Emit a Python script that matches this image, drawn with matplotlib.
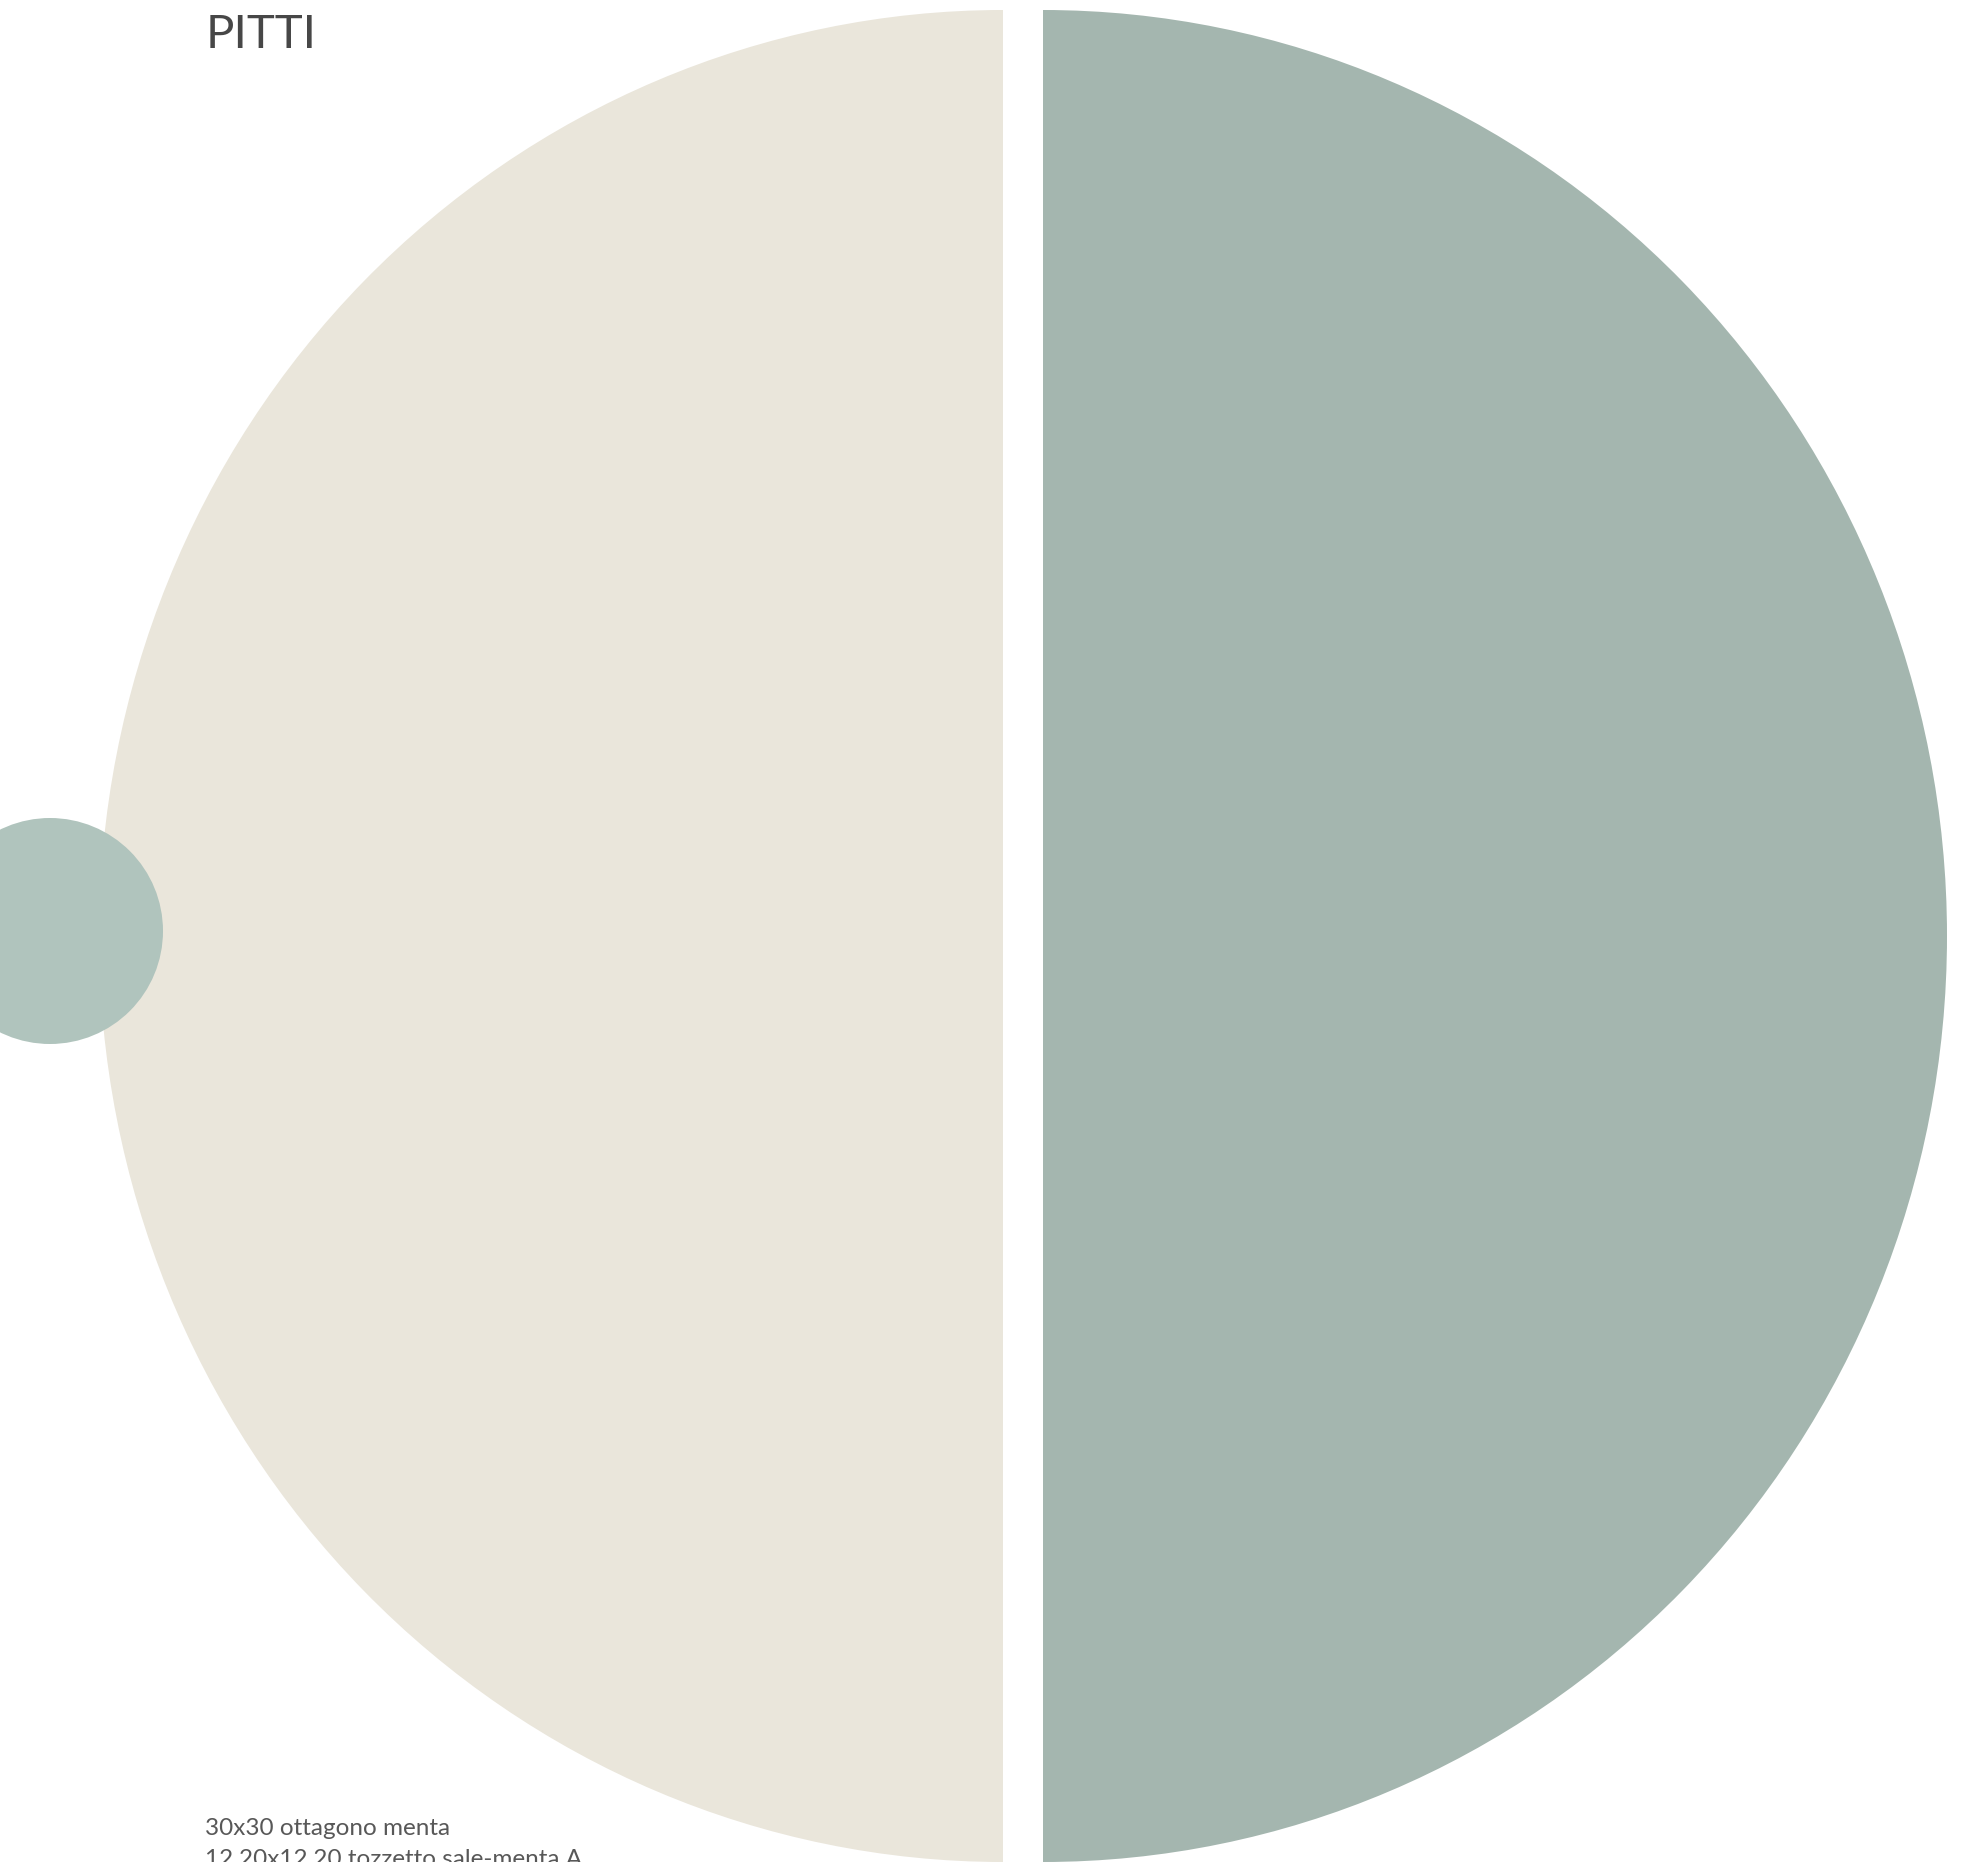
import matplotlib
matplotlib.use("Agg")
import matplotlib.pyplot as plt
from matplotlib.patches import Ellipse

# -------------------------
# DATI
# -------------------------
colori_nome = ["sale", "menta"]
quote = [50, 50]
colori = ["#EAE6DB", "#A4B6AF"]
colore_tozzetto = "#B0C4BD"

titolo = "PITTI"
didascalia = ["30x30 ottagono menta", "12.20x12.20 tozzetto sale-menta A"]

# -------------------------
# FIGURA (coordinate in pixel, asse x leggermente compresso)
# -------------------------
W, H = 1970, 1862
sx = 904 / 926  # rapporto raggio orizzontale / verticale

fig = plt.figure(figsize=(W / 100, H / 100), dpi=100)
ax = fig.add_axes([0, 0, 1, 1])

raggio = 926
centro = (1023 / sx, H - 936)
stacco = 20 / sx  # spostamento di ogni metà (unità dati)

# ordine: prima metà sinistra (sale), poi destra (menta)
ax.pie(quote, colors=colori, startangle=90, radius=raggio, center=centro,
       explode=[stacco, stacco], wedgeprops=dict(linewidth=0))

# piccolo cerchio a sinistra
ax.add_patch(Ellipse((50 / sx, H - 931), 2 * 113 / sx, 2 * 113,
                     facecolor=colore_tozzetto, edgecolor="none", zorder=5))

ax.set_xlim(0, W / sx)
ax.set_ylim(0, H)
ax.set_aspect("auto")
ax.axis("off")

fig.text(206 / W, 1 - 48 / H, titolo, fontsize=34, family="Lato",
         fontweight="normal", color="#474747", va="baseline", ha="left")
for i, riga in enumerate(didascalia):
    fig.text(205 / W, 1 - (1835 + 31 * i) / H, riga, fontsize=17.5, family="Lato",
             fontweight="normal", color="#585858", va="baseline", ha="left")

fig.savefig("out.png", dpi=100, facecolor="white")
